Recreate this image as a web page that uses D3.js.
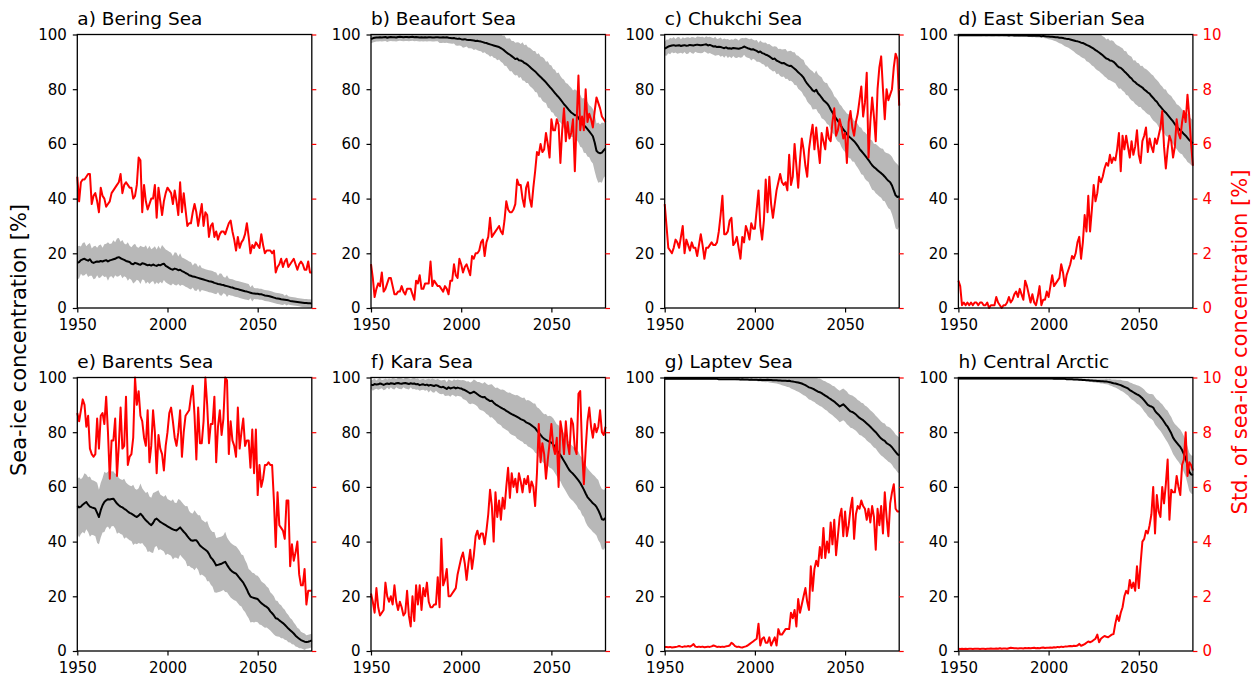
<!DOCTYPE html>
<html>
<head>
<meta charset="utf-8">
<script src="https://cdn.jsdelivr.net/npm/d3@7"></script>
<style>
  html, body { margin: 0; padding: 0; background: #ffffff; }
  svg { display: block; }
</style>
</head>
<body>
<script>
// Annual series 1950-2080 for eight Arctic regions:
// ensemble-mean sea-ice concentration (%), its ensemble spread (%),
// and the standard deviation of sea-ice concentration (%, right axis).

const firstYear = 1950, lastYear = 2080;
const xTicks = [1950, 2000, 2050];
const concTicks = [0, 20, 40, 60, 80, 100];
const stdTicks = [0, 2, 4, 6, 8, 10];

const titles = ["a) Bering Sea", "b) Beaufort Sea", "c) Chukchi Sea", "d) East Siberian Sea",
                "e) Barents Sea", "f) Kara Sea", "g) Laptev Sea", "h) Central Arctic"];

// ---------- a) Bering Sea ----------
const beringMean = [
16.5,16.8,17.5,17.8,18.0,17.6,17.3,17.8,16.8,16.5,
16.8,17.0,16.9,17.2,17.0,17.3,17.5,17.0,17.4,17.6,
17.8,18.0,18.4,18.6,18.2,17.9,17.6,17.2,17.0,16.8,
16.2,16.0,16.5,16.3,16.0,15.8,16.4,16.2,15.9,15.6,
15.8,15.5,15.9,15.6,15.4,15.8,15.6,16.0,16.2,15.4,
15.0,14.6,14.2,14.0,14.4,14.2,13.8,14.0,13.5,13.2,
12.8,12.5,12.0,11.8,11.5,11.4,11.2,11.0,10.8,10.6,
10.4,10.2,10.0,9.8,9.7,9.5,9.2,9.0,8.8,8.7,
8.5,8.4,8.1,8.0,7.8,7.6,7.5,7.2,7.0,6.9,
6.7,6.5,6.3,6.1,6.0,5.8,5.6,5.4,5.3,5.2,
5.2,5.0,5.0,4.8,4.6,4.5,4.4,4.2,4.0,3.8,
3.6,3.5,3.4,3.2,3.1,3.0,2.9,2.8,2.6,2.5,
2.4,2.3,2.2,2.1,2.0,1.9,1.8,1.8,1.7,1.7,1.6];
const beringSpread = [
6,6,5,6,6,5,6,6,5,6,
6,5,6,6,5,6,6,7,6,6,
7,6,7,7,6,7,6,6,7,6,
6,7,7,6,6,7,6,6,7,6,
7,6,6,7,6,7,6,7,6,6,
6,6,6,5,6,6,5,6,5,5,
5,5,5,5,4,5,5,4,5,4,
4,4,4,4,4,4,4,4,3,4,
4,3,3,4,3,3,3,3,3,3,
3,3,3,3,3,3,2,3,2,2,
2,2,2,2,2,2,2,2,2,2,
2,2,2,2,2,1.5,2,1.5,1.5,1.5,
1.5,1.5,1.5,1.5,1.5,1.5,1.5,1.5,1.5,1.5,1.5];
const beringStd = [
4.8,3.9,4.6,4.7,4.7,4.8,4.9,4.9,3.8,4.1,
4.2,3.9,3.5,4.4,4.1,4.0,3.7,3.8,3.9,4.2,
4.3,4.4,4.5,4.6,4.9,4.2,4.5,4.6,4.5,4.4,
4.4,4.0,4.1,4.5,5.5,5.4,3.5,4.5,3.9,3.6,
3.8,4.0,4.0,4.5,3.3,4.4,3.9,3.4,3.9,4.2,
4.4,4.3,4.2,3.8,4.3,3.9,3.4,4.6,3.5,4.2,
3.6,3.0,3.1,3.1,3.5,3.8,3.5,3.0,3.4,3.8,
3.0,3.5,3.4,2.6,3.0,3.1,2.6,2.8,2.5,2.7,
2.8,2.8,2.7,2.9,3.1,3.2,2.8,2.5,2.1,2.6,
2.2,2.4,2.5,2.7,3.1,2.6,2.0,2.3,2.2,2.4,
2.3,2.2,2.7,2.3,2.0,2.1,2.1,2.1,2.0,2.1,
1.3,1.5,1.6,1.8,1.5,1.7,1.8,1.5,1.6,1.7,
1.8,1.6,1.4,1.6,1.7,1.6,1.4,1.4,1.7,1.3,1.3];

// ---------- b) Beaufort Sea ----------
const beaufortMean = [
98.3,98.6,98.8,98.9,98.9,99.0,98.9,99.0,99.1,98.8,
99.0,99.1,99.0,99.0,98.9,99.1,99.2,99.1,99.0,99.1,
99.1,99.0,99.1,99.2,99.0,99.1,99.0,98.9,99.0,98.9,
99.0,98.9,99.0,99.0,98.9,98.9,99.0,99.0,98.9,98.9,
99.0,98.9,99.0,98.8,98.7,98.6,98.7,98.5,98.4,98.5,
98.3,98.2,98.3,98.1,98.0,98.0,97.9,97.8,97.6,97.7,
97.5,97.4,97.2,97.0,96.9,96.6,96.4,96.2,96.0,95.8,
95.6,95.4,95.0,94.6,94.1,93.5,93.0,92.6,92.1,91.6,
91.0,91.2,90.6,90.5,90.2,89.6,89.3,88.8,88.2,87.6,
87.0,86.5,85.8,85.1,84.5,83.8,83.2,82.5,81.7,80.9,
80.2,79.4,78.6,77.8,77.1,76.3,75.4,74.5,73.8,73.0,
72.2,71.5,71.0,70.5,70.5,69.5,68.5,67.6,66.8,66.2,
65.4,64.6,63.7,62.8,60.5,57.5,56.8,56.6,56.8,57.6,58.4];
const beaufortSpread = [
1.5,1.5,1.5,1.5,1.5,1.5,1.5,1.5,1.5,1.5,
1.5,1.5,1.5,1.5,1.5,1.5,1.5,1.5,1.5,1.5,
1.5,1.5,1.5,1.5,1.5,1.5,1.5,1.5,1.5,1.5,
1.5,1.5,1.5,1.5,1.5,1.5,1.5,1.5,2,2,
2,2,2,2,2,2,2,2.5,2.5,2.5,
2.5,3,3,2.5,3,3,3,3.5,3,3.5,
3.5,3.5,4,3.5,4,4,4.5,4,4.5,4.5,
5,4.5,5,5,5.5,5,5.5,6,5.5,6,
6,6,6.5,6,7,6.5,7,6.5,7,7,
7,7.5,7,8,7.5,8,8,7.5,8.5,8,
8.5,8,8.5,8,9,8.5,8.5,9,8.5,9,
9,9,8.5,9.5,9,9,9.5,9,10,9.5,
10,9.5,10,10,10.5,10,11,10.5,11,10,10];
const beaufortStd = [
1.6,1.1,0.4,0.7,0.9,0.8,1.3,0.6,0.7,0.9,
1.1,1.1,0.8,0.5,0.5,0.6,0.6,0.8,0.6,0.5,
0.7,0.7,0.7,0.5,0.3,1.0,0.9,1.2,0.7,0.7,
0.9,0.9,0.9,1.7,0.8,1.0,0.9,0.8,0.8,0.7,
0.6,0.8,0.7,0.5,1.0,1.0,1.6,1.2,1.1,1.8,
1.6,1.3,1.5,1.6,1.4,1.2,1.9,1.8,2.0,2.0,
2.1,2.4,2.5,1.9,2.4,2.6,3.3,2.6,2.7,2.8,
2.9,3.0,2.8,2.7,3.2,3.9,3.6,3.5,3.5,3.6,
3.8,4.7,4.5,4.5,4.0,3.7,4.4,4.6,4.0,3.7,
4.4,5.0,5.7,5.6,6.0,5.7,5.8,6.4,6.0,5.5,
6.9,6.5,6.5,6.9,6.7,5.3,6.5,7.3,6.1,6.8,
6.2,6.4,6.9,5.0,6.8,8.5,6.5,7.0,6.5,8.0,
6.8,7.1,6.9,6.6,7.2,7.7,7.5,7.3,7.0,6.9,6.8];

// ---------- c) Chukchi Sea ----------
const chukchiMean = [
94.8,95.2,95.6,95.8,96.0,96.1,95.9,96.0,96.1,95.8,
96.0,96.1,95.9,96.0,96.2,96.1,96.0,96.2,96.3,96.2,
96.1,96.2,96.3,96.4,96.0,96.2,95.9,95.6,95.7,95.4,
95.5,95.4,95.2,95.0,95.3,94.9,95.0,94.8,95.1,95.0,
94.9,94.8,95.0,95.2,95.6,95.3,95.0,94.8,94.5,94.6,
94.3,94.0,93.5,93.8,93.2,93.0,92.6,92.4,92.0,91.5,
91.0,91.2,90.5,90.2,89.8,89.5,89.6,89.2,88.8,88.5,
88.6,88.0,87.5,86.9,86.2,85.6,85.0,84.2,83.0,82.0,
81.2,80.5,79.6,79.2,79.8,78.5,77.8,76.9,76.0,75.4,
74.8,73.9,72.6,71.5,70.4,69.3,68.4,67.5,66.4,65.3,
64.5,63.6,62.8,62.2,61.6,61.0,60.2,59.3,58.2,57.4,
56.6,55.8,55.0,54.1,53.1,52.2,51.5,51.0,50.4,49.8,
49.3,48.7,48.0,47.2,46.5,46.0,44.8,43.0,41.2,40.6,40.8];
const chukchiSpread = [
2.5,3,2.5,3,2.5,3,2.5,3,3,2.5,
3,2.5,3,3,2.5,3,3,2.5,3,3,
3,3,2.5,3,3,3,3,3,3.5,3,
3,3.5,3,3.5,3,3.5,3,3.5,3,3.5,
3.5,3,3.5,3.5,3,3.5,3.5,3.5,4,3.5,
3.5,4,3.5,4,4,4,4.5,4,4.5,4.5,
4.5,4.5,5,4.5,5,5,5,5.5,5,5.5,
5.5,5.5,6,5.5,6,6,6,6.5,6,6.5,
6.5,6.5,7,6.5,7,7,7,7.5,7,7,
7.5,7,7.5,7.5,7,7.5,7.5,7,7.5,7.5,
7.5,7.5,8,7.5,8,7.5,8,8,8,8.5,
8,8.5,8.5,8,8.5,9,8.5,9,9,9,
9,9.5,9,9.5,10,10,10.5,11,12,12,11];
const chukchiStd = [
3.8,3.0,2.2,2.1,2.0,2.2,2.5,2.4,2.2,2.6,
3.0,2.0,2.5,2.3,2.1,2.4,2.2,2.2,1.9,2.3,
2.7,2.3,1.8,2.2,2.2,2.3,2.4,2.3,2.3,2.4,
2.8,3.4,4.1,2.7,2.7,2.8,3.2,3.3,2.3,2.4,
2.6,2.2,1.8,2.6,2.4,3.0,2.8,2.5,3.1,2.9,
2.9,3.6,4.3,3.0,2.5,3.2,4.7,3.5,4.8,3.8,
3.3,3.8,4.3,4.6,4.9,4.6,4.5,4.6,4.3,5.6,
4.5,4.8,6.0,5.2,4.4,5.4,6.2,5.8,5.2,4.8,
5.8,6.3,6.7,5.8,6.6,5.9,5.3,6.4,6.1,5.8,
6.6,6.2,6.1,6.8,7.3,6.3,6.5,6.9,6.6,6.2,
6.4,5.3,6.8,7.2,6.6,6.3,6.8,7.1,7.6,8.1,
7.0,7.5,8.6,5.5,6.8,7.7,7.0,6.1,8.0,8.8,
9.2,8.0,6.9,8.0,7.6,7.8,8.0,8.8,9.3,9.1,7.4];

// ---------- d) East Siberian Sea ----------
const eastSiberianMean = [
99.6,99.7,99.7,99.7,99.7,99.7,99.7,99.7,99.7,99.7,
99.7,99.7,99.7,99.7,99.8,99.7,99.7,99.8,99.7,99.7,
99.7,99.8,99.7,99.7,99.8,99.7,99.7,99.7,99.6,99.7,
99.7,99.6,99.7,99.6,99.6,99.7,99.6,99.6,99.6,99.5,
99.6,99.5,99.6,99.5,99.5,99.5,99.4,99.5,99.4,99.3,
99.3,99.2,99.2,99.1,99.0,99.0,98.8,98.8,98.7,98.5,
98.4,98.4,98.2,98.0,97.8,97.6,97.5,97.3,97.0,96.9,
96.6,96.2,95.9,95.6,95.2,94.8,94.3,93.9,93.4,92.9,
92.4,91.8,91.2,91.0,90.5,90.4,90.0,89.4,88.6,88.0,
87.8,87.2,86.5,85.9,85.2,84.4,83.9,83.0,82.6,81.9,
81.5,81.0,80.6,79.9,79.4,78.8,78.4,77.5,76.8,76.0,
75.4,74.4,73.6,72.8,72.0,71.4,70.6,69.8,69.0,68.2,
67.2,66.3,65.6,65.0,64.4,63.6,63.0,62.2,61.4,60.8,60.2];
const eastSiberianSpread = [
0.3,0.3,0.3,0.3,0.3,0.3,0.3,0.3,0.3,0.3,
0.3,0.3,0.3,0.3,0.3,0.3,0.3,0.3,0.3,0.3,
0.3,0.3,0.3,0.3,0.3,0.3,0.3,0.3,0.3,0.3,
0.4,0.4,0.4,0.4,0.4,0.4,0.4,0.4,0.4,0.4,
0.5,0.5,0.5,0.6,0.6,0.6,0.7,0.7,0.8,0.8,
1,1,1.2,1.4,1.5,1.8,2,2.2,2.5,2.8,
3,3.2,3.5,3.8,4,4.5,4.8,5,5.2,5.5,
5.5,6,6,6.2,6.5,6.5,6.8,7,6.8,7,
7,7.2,7,7.5,7.2,7.5,7.5,7.2,7.5,7.8,
7.5,7.8,7.5,8,7.5,7.8,8,7.5,8,7.8,
8,7.5,8,7.8,8,8,7.8,8,8.2,8,
8,8.2,8,8.2,8,8.5,8,8.2,8.5,8.2,
8.5,8.2,8.5,8.5,8.2,8.5,8.5,8.8,8.5,8.5,8.5];
const eastSiberianStd = [
1.0,0.8,0.1,0.2,0.1,0.2,0.1,0.2,0.1,0.2,
0.2,0.1,0.2,0.2,0.1,0.1,0.2,0.0,0.1,0.1,
0.1,0.4,0.2,0.1,0.0,0.1,0.1,0.2,0.4,0.2,
0.3,0.5,0.6,0.4,0.7,0.5,0.3,1.0,0.8,0.5,
0.2,0.5,0.2,0.1,0.4,0.8,0.1,0.3,0.3,0.6,
0.4,0.8,1.2,0.8,0.9,1.0,1.1,1.6,1.3,0.8,
1.2,1.4,1.6,1.9,1.8,2.0,2.4,2.6,1.8,2.4,
3.4,2.8,4.1,2.8,3.6,4.5,3.9,4.2,4.8,4.6,
4.8,5.1,5.3,5.2,5.6,5.3,5.5,5.4,5.8,6.4,
5.0,6.3,5.8,6.3,5.9,5.5,6.1,5.6,5.9,6.5,
5.6,5.3,6.1,6.3,6.6,5.7,6.2,5.9,5.7,6.2,
6.0,6.3,6.6,7.2,5.9,5.1,5.8,6.3,6.1,5.5,
5.9,6.9,6.4,6.2,6.8,7.2,6.8,7.8,7.0,6.0,5.2];

// ---------- e) Barents Sea ----------
const barentsMean = [
53.0,52.5,52.8,53.5,54.0,54.5,53.5,52.8,52.5,52.3,
52.0,50.5,49.0,51.5,53.3,54.5,55.1,55.5,55.4,55.6,
55.7,54.8,53.9,53.3,52.8,52.5,52.0,51.6,51.0,50.5,
50.2,49.8,49.3,49.0,49.5,50.2,49.5,48.6,47.8,47.2,
46.5,46.0,46.8,48.0,48.4,47.8,47.2,46.8,46.4,46.0,
45.6,45.2,44.8,44.5,44.2,44.1,44.6,45.2,44.4,43.6,
42.9,42.0,41.2,40.5,40.3,40.5,40.5,39.6,38.6,38.0,
37.5,37.0,36.5,35.5,34.2,33.5,32.5,31.3,31.5,31.7,
31.9,32.3,32.6,31.5,30.5,29.6,29.0,28.6,28.3,27.5,
26.6,25.8,25.0,23.8,22.5,21.0,19.9,19.6,19.4,19.2,
19.0,18.2,17.5,17.0,16.5,16.1,15.5,14.5,13.8,13.0,
12.0,11.8,11.2,10.7,10.2,9.6,8.9,8.2,7.6,7.0,
6.4,5.6,5.0,4.5,4.0,3.7,3.4,3.3,3.4,3.6,3.9];
const barentsSpread = [
10,11,10,10,11,10,10,11,10,10,
10,11,10,10,10,11,10,10,11,10,
10,10,11,10,10,10,11,10,10,10,
10,11,10,10,10,11,10,10,10,11,
10,10,11,10,10,11,10,10,10,11,
10,10,10,11,10,10,11,10,10,10,
10,11,10,10,10,11,10,10,11,10,
10,10,11,10,10,10,11,10,10,10,
10,10,11,10,10,10,10,10,10,10,
10,9.5,10,9.5,9.5,9,9.5,9,9,8.5,
8.5,8.5,8,8,8,7.5,7.5,7,7,7,
6.5,6.5,6,6,5.5,5.5,5,5,4.5,4.5,
4,4,3.5,3.5,3,3,3,2.5,2.5,2.5,2.5];
const barentsStd = [
8.7,8.4,8.8,9.2,9.0,8.2,8.6,7.4,7.2,7.1,
7.2,8.5,7.4,8.6,8.7,8.3,9.3,8.0,6.3,7.7,
7.7,8.5,6.4,7.5,8.9,7.4,7.5,9.3,6.8,7.1,
7.2,7.8,10.0,9.0,9.5,8.6,8.4,7.8,7.5,8.8,
6.9,7.5,8.8,8.0,6.5,7.9,7.4,7.2,6.6,7.5,
8.0,8.7,8.9,8.4,7.8,7.5,8.0,8.8,7.1,8.0,
8.6,8.7,8.8,9.3,9.7,8.6,7.0,8.9,7.6,7.6,
8.4,10.0,9.0,7.6,8.3,8.3,9.3,6.9,8.2,8.8,
7.9,8.5,10.0,9.9,7.2,8.4,7.7,7.5,7.1,8.9,
7.4,8.0,8.5,7.5,7.7,7.7,6.7,8.1,6.5,8.1,
5.7,6.8,6.0,6.3,6.8,6.8,6.9,6.8,6.8,5.5,
3.8,5.8,4.6,4.5,4.4,4.1,5.5,5.5,3.1,3.9,
3.3,3.6,4.0,2.8,2.4,2.4,3.0,1.7,2.2,2.2,2.2];

// ---------- f) Kara Sea ----------
const karaMean = [
97.4,97.2,97.6,97.4,97.5,97.8,97.6,97.3,97.6,97.8,
97.6,97.9,97.8,97.6,97.9,98.0,97.8,97.7,97.9,98.0,
97.8,97.6,97.9,97.7,97.8,97.5,97.6,97.2,97.4,97.5,
97.2,97.4,97.0,97.3,97.1,96.9,97.2,97.0,96.6,96.4,
96.6,96.2,95.8,96.4,96.0,96.2,96.4,96.0,96.3,96.1,
96.0,95.6,95.4,95.0,94.6,94.2,94.5,94.8,94.4,93.9,
93.4,93.0,92.8,92.9,92.2,91.8,91.4,91.5,90.8,90.2,
89.8,89.4,89.0,88.6,88.3,87.8,87.4,87.0,86.6,86.3,
86.0,85.6,85.2,84.8,84.5,84.2,83.6,83.3,83.0,82.5,
82.0,81.5,80.6,79.8,79.0,78.2,77.6,77.2,76.8,76.5,
76.2,75.6,74.5,73.4,72.5,71.6,70.6,69.5,68.4,67.2,
66.1,65.4,64.8,64.0,63.2,62.4,61.4,60.2,59.0,57.6,
56.3,55.5,54.8,54.0,53.5,52.7,51.5,50.0,48.2,48.0,48.6];
const karaSpread = [
1.5,2,2,1.5,2,2,1.5,2,2,1.5,
2,1.5,2,2,1.5,2,2,2,1.5,2,
2,2,1.5,2,2,2,2,2,2,2,
2,2,2.5,2,2.5,2.5,2,2.5,2.5,2.5,
2.5,3,2.5,3,3,2.5,3,3,3,3,
3,3.5,3.5,3.5,4,4,4,4.5,4.5,4.5,
5,5,5,5.5,5.5,5.5,6,6,6,6,
6.5,6.5,6.5,7,7,7,7,7.5,7.5,7.5,
7.5,8,8,8,8,8.5,8,8.5,8.5,8.5,
8.5,9,8.5,9,9,9,9,9.5,9,9.5,
9.5,9.5,9.5,9.5,10,9.5,10,10,10,10,
10,10,10,10,10,10.5,10,10.5,10,10.5,
10.5,10.5,10.5,10.5,10.5,10.5,11,10.5,11,11,10.5];
const karaStd = [
2.1,1.8,1.4,2.3,1.6,1.3,1.4,1.5,2.5,2.0,
1.8,2.0,1.7,2.4,1.8,1.5,1.8,1.6,1.3,1.4,
2.2,1.3,0.9,2.0,1.1,2.4,1.7,2.4,1.5,2.3,
2.0,2.5,1.8,1.6,1.6,1.7,1.7,2.7,1.6,4.1,
2.4,2.6,3.0,2.0,2.0,2.1,2.2,2.3,2.8,3.1,
3.4,3.6,3.2,2.6,3.2,3.7,3.0,3.5,4.2,4.4,
4.1,4.3,4.3,3.9,4.4,5.0,5.9,5.3,4.0,5.8,
4.9,5.5,4.8,5.6,5.2,6.0,6.7,5.6,6.5,6.0,
6.3,5.8,6.5,6.2,5.8,6.3,6.1,6.4,5.8,6.2,
6.0,5.3,6.5,8.3,6.9,7.6,7.2,6.3,7.0,7.6,
8.3,7.5,7.2,7.8,6.0,8.4,8.0,7.2,8.4,7.6,
7.2,8.5,8.3,7.4,7.2,9.4,9.5,7.4,6.1,7.4,
8.4,8.9,8.2,7.8,8.3,8.0,8.2,8.8,8.0,7.9,8.2];

// ---------- g) Laptev Sea ----------
const laptevMean = [
99.5,99.5,99.5,99.5,99.5,99.5,99.5,99.5,99.5,99.5,
99.5,99.5,99.5,99.5,99.5,99.5,99.5,99.5,99.5,99.5,
99.5,99.5,99.5,99.5,99.5,99.5,99.5,99.5,99.5,99.5,
99.4,99.4,99.4,99.4,99.4,99.4,99.4,99.4,99.4,99.4,
99.4,99.4,99.3,99.4,99.3,99.3,99.3,99.2,99.3,99.2,
99.2,99.2,99.1,99.2,99.1,99.1,99.1,99.2,99.1,99.1,
99.0,99.0,99.0,98.9,98.9,98.8,98.8,98.8,98.7,98.8,
98.6,98.5,98.4,98.3,98.2,98.0,97.8,97.5,97.2,96.8,
96.4,96.2,95.9,95.6,95.2,94.8,94.6,94.3,93.8,93.4,
93.0,92.5,92.1,91.6,91.2,90.6,90.0,89.4,89.8,90.2,
89.6,88.9,88.2,87.6,87.4,87.0,86.5,85.8,85.2,84.8,
84.4,83.8,83.2,82.6,82.0,81.3,80.6,80.0,79.2,78.4,
77.7,77.2,76.8,76.0,75.6,75.2,74.5,73.6,72.8,72.0,71.5];
const laptevSpread = [
0.3,0.3,0.3,0.3,0.3,0.3,0.3,0.3,0.3,0.3,
0.3,0.3,0.3,0.3,0.3,0.3,0.3,0.3,0.3,0.3,
0.3,0.3,0.3,0.3,0.3,0.3,0.3,0.3,0.3,0.3,
0.3,0.3,0.3,0.3,0.3,0.3,0.3,0.3,0.3,0.3,
0.4,0.4,0.4,0.4,0.4,0.4,0.4,0.4,0.4,0.4,
0.5,0.5,0.6,0.6,0.7,0.7,0.8,0.8,0.9,1,
1,1.1,1.2,1.3,1.5,1.6,1.8,2,2.2,2.4,
2.6,2.8,3,3.2,3.4,3.6,3.8,4,4,4.2,
4.4,4.4,4.6,4.6,4.8,4.8,5,5,5,5.2,
5.2,5.4,5.4,5.4,5.6,5.6,5.6,5.8,5.8,5.8,
5.8,6,5.8,6,6,6,6,6,6.2,6,
6.2,6,6.2,6.2,6,6.2,6.2,6,6.2,6.2,
6.2,6.2,6.4,6.2,6.4,6.4,6.4,6.6,6.4,6.6,6.6];
const laptevStd = [
0.15,0.15,0.14,0.15,0.13,0.14,0.15,0.16,0.18,0.16,
0.15,0.17,0.16,0.18,0.16,0.2,0.25,0.16,0.15,0.16,
0.15,0.16,0.14,0.15,0.16,0.15,0.17,0.2,0.18,0.15,
0.16,0.15,0.16,0.15,0.17,0.18,0.2,0.3,0.25,0.18,
0.15,0.16,0.14,0.13,0.15,0.17,0.2,0.25,0.3,0.35,
0.4,0.45,1.0,0.2,0.45,0.5,0.3,0.3,0.5,0.2,
0.35,0.5,0.2,0.8,0.6,0.6,0.7,0.8,0.8,0.8,
1.4,1.2,1.5,0.9,1.9,1.4,1.7,2.0,2.3,1.8,
1.5,3.1,2.2,3.0,3.3,3.1,3.8,3.4,4.5,3.4,
4.0,3.6,4.7,3.9,4.8,3.5,4.2,4.9,5.2,4.2,
5.1,4.2,4.6,5.2,5.6,4.1,5.0,5.3,5.2,5.5,
5.3,5.2,4.8,5.2,4.7,5.3,4.9,3.7,5.2,4.6,
5.3,4.3,5.8,4.9,4.2,5.4,5.8,6.1,5.2,5.1,5.1];

// ---------- h) Central Arctic ----------
const centralMean = [
99.6,99.6,99.6,99.6,99.6,99.6,99.6,99.6,99.6,99.6,
99.6,99.6,99.6,99.6,99.6,99.6,99.6,99.6,99.6,99.6,
99.6,99.6,99.6,99.6,99.6,99.6,99.6,99.6,99.6,99.6,
99.6,99.6,99.6,99.6,99.6,99.6,99.6,99.6,99.6,99.6,
99.6,99.6,99.6,99.6,99.6,99.6,99.6,99.6,99.6,99.6,
99.6,99.6,99.6,99.5,99.5,99.5,99.5,99.5,99.5,99.5,
99.4,99.4,99.4,99.4,99.3,99.3,99.3,99.2,99.2,99.1,
99.1,99.0,99.0,98.9,98.9,98.8,98.8,98.7,98.7,98.6,
98.6,98.5,98.5,98.4,98.3,98.1,97.9,97.8,97.6,97.4,
97.2,96.9,96.6,96.3,96.0,95.4,95.0,94.6,94.2,93.8,
93.5,93.0,92.4,91.6,90.8,90.0,89.6,89.4,89.0,87.8,
87.0,86.4,85.6,84.8,83.8,82.8,82.0,80.8,79.6,78.0,
77.0,76.2,75.4,74.6,73.5,72.0,70.4,68.0,65.5,64.6,64.3];
const centralSpread = [
0.3,0.3,0.3,0.3,0.3,0.3,0.3,0.3,0.3,0.3,
0.3,0.3,0.3,0.3,0.3,0.3,0.3,0.3,0.3,0.3,
0.3,0.3,0.3,0.3,0.3,0.3,0.3,0.3,0.3,0.3,
0.3,0.3,0.3,0.3,0.3,0.3,0.3,0.3,0.3,0.3,
0.3,0.3,0.3,0.3,0.3,0.3,0.3,0.3,0.3,0.3,
0.3,0.3,0.3,0.3,0.3,0.3,0.3,0.3,0.3,0.3,
0.3,0.3,0.3,0.3,0.35,0.35,0.35,0.4,0.4,0.4,
0.4,0.4,0.5,0.5,0.5,0.6,0.6,0.7,0.7,0.8,
0.8,0.9,1,1,1.2,1.2,1.4,1.5,1.6,1.8,
2,2,2.2,2.4,2.6,2.8,3,3,3.2,3.4,
3.5,3.6,3.8,4,4,4.2,4.4,4.6,4.8,5,
5,5.2,5.2,5.4,5.5,5.6,5.8,5.8,6,6,
6,6.2,6.2,6.4,6.4,6.6,6.6,6.8,7,7,7];
const centralStd = [
0.08,0.07,0.08,0.07,0.08,0.07,0.08,0.08,0.07,0.08,
0.08,0.08,0.07,0.08,0.08,0.07,0.08,0.08,0.09,0.08,
0.08,0.09,0.08,0.1,0.08,0.09,0.09,0.08,0.1,0.12,
0.11,0.1,0.1,0.09,0.1,0.1,0.09,0.11,0.1,0.11,
0.1,0.11,0.12,0.1,0.11,0.1,0.12,0.13,0.11,0.12,
0.12,0.13,0.12,0.14,0.13,0.15,0.14,0.16,0.15,0.16,
0.16,0.17,0.18,0.17,0.19,0.18,0.2,0.26,0.19,0.22,
0.25,0.3,0.35,0.32,0.35,0.4,0.45,0.6,0.32,0.45,
0.5,0.55,0.52,0.5,0.55,0.6,0.62,1.0,1.3,1.1,
1.4,1.6,2.0,2.2,2.1,2.6,2.3,2.5,2.2,3.1,
2.3,3.2,4.0,4.1,4.4,4.3,4.6,5.0,6.0,4.3,
5.7,5.1,4.9,6.0,5.4,6.1,7.0,4.8,5.9,5.8,
5.8,6.4,6.0,5.7,6.8,7.0,8.0,6.4,6.9,6.8,6.6];

const means   = [beringMean, beaufortMean, chukchiMean, eastSiberianMean, barentsMean, karaMean, laptevMean, centralMean];
const spreads = [beringSpread, beaufortSpread, chukchiSpread, eastSiberianSpread, barentsSpread, karaSpread, laptevSpread, centralSpread];
const stds    = [beringStd, beaufortStd, chukchiStd, eastSiberianStd, barentsStd, karaStd, laptevStd, centralStd];

const years = d3.range(firstYear, lastYear + 1);

// ---------- layout ----------
const W = 1257, H = 677;
const FONT = "DejaVu Sans, Verdana, sans-serif";
const RED = "#ff0000";
const TICK_FONT = "15px";
const panelLeft0 = 77.3, panelStep = 293.7, panelW = 234.5;
const panelTops = [34.5, 377.5], panelH = 273.5;

const svg = d3.select("body").append("svg")
  .attr("width", W).attr("height", H)
  .attr("viewBox", `0 0 ${W} ${H}`);

titles.forEach((title, i) => {
  const col = i % 4, row = Math.floor(i / 4);
  const x0 = panelLeft0 + col * panelStep;
  const y0 = panelTops[row];

  const x = d3.scaleLinear().domain([firstYear, lastYear]).range([x0, x0 + panelW]);
  const y = d3.scaleLinear().domain([0, 100]).range([y0 + panelH, y0]);
  const yStd = d3.scaleLinear().domain([0, 10]).range([y0 + panelH, y0]);

  const mean = means[i], spread = spreads[i], std = stds[i];
  const rows = years.map((yr, j) => ({
    year: yr,
    mean: mean[j],
    lo: Math.max(0, mean[j] - spread[j]),
    hi: Math.min(100, mean[j] + spread[j]),
    std: std[j]
  }));

  const g = svg.append("g");

  // ensemble spread band
  g.append("path")
    .datum(rows)
    .attr("fill", "#b8b8b8")
    .attr("stroke", "none")
    .attr("d", d3.area().x(d => x(d.year)).y0(d => y(d.lo)).y1(d => y(d.hi)));

  // ensemble mean
  g.append("path")
    .datum(rows)
    .attr("fill", "none")
    .attr("stroke", "#000")
    .attr("stroke-width", 2)
    .attr("stroke-linejoin", "round")
    .attr("d", d3.line().x(d => x(d.year)).y(d => y(d.mean)));

  // standard deviation (right axis)
  g.append("path")
    .datum(rows)
    .attr("fill", "none")
    .attr("stroke", RED)
    .attr("stroke-width", 2)
    .attr("stroke-linejoin", "round")
    .attr("d", d3.line().x(d => x(d.year)).y(d => yStd(d.std)));

  // frame
  g.append("rect")
    .attr("x", x0).attr("y", y0)
    .attr("width", panelW).attr("height", panelH)
    .attr("fill", "none").attr("stroke", "#000").attr("stroke-width", 1.3);

  // left axis
  const left = g.append("g")
    .attr("transform", `translate(${x0},0)`)
    .call(d3.axisLeft(y).tickValues(concTicks).tickSize(4.5).tickSizeOuter(0).tickPadding(6));
  left.select(".domain").remove();
  left.selectAll(".tick line").attr("stroke", "#000").attr("stroke-width", 1.2);
  left.selectAll(".tick text")
    .attr("fill", "#000").attr("font-family", FONT).attr("font-size", TICK_FONT);

  // bottom axis
  const bottom = g.append("g")
    .attr("transform", `translate(0,${y0 + panelH})`)
    .call(d3.axisBottom(x).tickValues(xTicks).tickFormat(d3.format("d")).tickSize(4.5).tickSizeOuter(0).tickPadding(7));
  bottom.select(".domain").remove();
  bottom.selectAll(".tick line").attr("stroke", "#000").attr("stroke-width", 1.2);
  bottom.selectAll(".tick text")
    .attr("fill", "#000").attr("font-family", FONT).attr("font-size", TICK_FONT);

  // right axis (red), labelled on the last column only
  const right = g.append("g")
    .attr("transform", `translate(${x0 + panelW},0)`)
    .call(d3.axisRight(yStd).tickValues(stdTicks).tickSize(4.5).tickSizeOuter(0).tickPadding(5)
      .tickFormat(col === 3 ? d3.format("d") : () => ""));
  right.select(".domain").remove();
  right.selectAll(".tick line").attr("stroke", RED).attr("stroke-width", 1.2);
  right.selectAll(".tick text")
    .attr("fill", RED).attr("font-family", FONT).attr("font-size", TICK_FONT);

  // panel title
  g.append("text")
    .attr("x", x0).attr("y", y0 - 9.5)
    .attr("font-family", FONT).attr("font-size", "18.5px").attr("fill", "#000")
    .text(title);
});

// shared axis labels
svg.append("text")
  .attr("transform", "translate(26,340) rotate(-90)")
  .attr("text-anchor", "middle")
  .attr("font-family", FONT).attr("font-size", "21px").attr("fill", "#000")
  .text("Sea-ice concentration [%]");

svg.append("text")
  .attr("transform", "translate(1247,342) rotate(-90)")
  .attr("text-anchor", "middle")
  .attr("font-family", FONT).attr("font-size", "21px").attr("fill", RED)
  .text("Std. of sea-ice concentration [%]");
</script>
</body>
</html>
